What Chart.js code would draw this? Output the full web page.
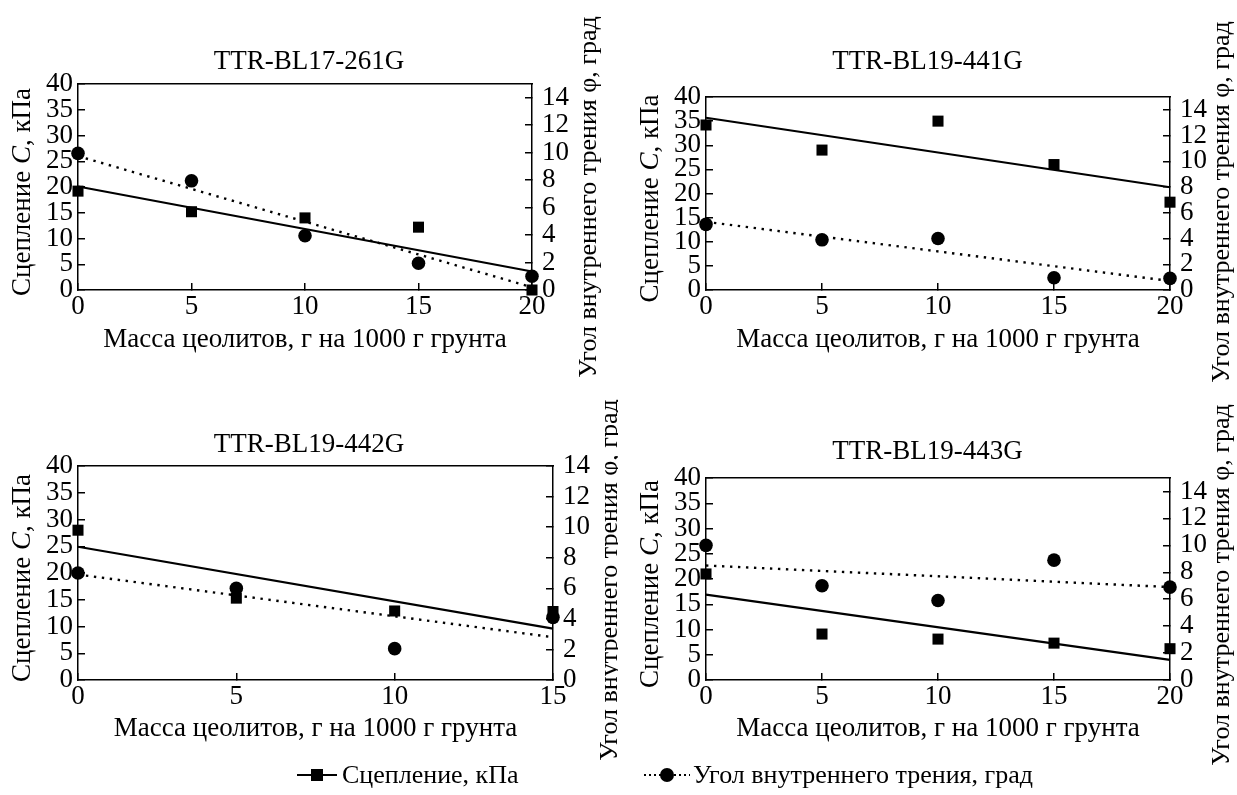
<!DOCTYPE html>
<html><head><meta charset="utf-8">
<script src="https://cdn.jsdelivr.net/npm/chart.js@4.4.1/dist/chart.umd.min.js"></script>
<style>
html,body{margin:0;padding:0;background:#fff;width:1237px;height:795px;overflow:hidden;font-family:"Liberation Serif","DejaVu Serif","Noto Serif",serif;color:#000;}
.panel{position:absolute;}
.panel canvas{display:block;}
#legend{position:absolute;left:0;top:755px;width:1237px;height:40px;font-size:26px;}
.item{position:absolute;top:0;height:40px;display:flex;align-items:center;white-space:nowrap;}
.symA{position:relative;width:40px;height:2px;background:#000;margin-right:5px;}
.symA::after{content:"";position:absolute;left:14px;top:-5px;width:12px;height:12px;background:#000;}
.symB{position:relative;width:46px;height:2px;margin-right:3px;background-image:linear-gradient(to right,#000 2px,transparent 2px);background-size:5px 2px;}
.symB::after{content:"";position:absolute;left:16px;top:-6px;width:14px;height:14px;border-radius:50%;background:#000;}
</style></head><body>
<div class="panel" style="left:0;top:0"><canvas id="c1" width="618" height="395"></canvas></div>
<div class="panel" style="left:618px;top:0"><canvas id="c2" width="619" height="395"></canvas></div>
<div class="panel" style="left:0;top:395px"><canvas id="c3" width="618" height="400"></canvas></div>
<div class="panel" style="left:618px;top:395px"><canvas id="c4" width="619" height="400"></canvas></div>
<div id="legend">
  <div class="item" style="left:297px"><span class="symA"></span><span id="lg1"></span></div>
  <div class="item" style="left:644px"><span class="symB"></span><span id="lg2"></span></div>
</div>
<script>
// ---------- data ----------
const panelTitles = ['TTR-BL17-261G', 'TTR-BL19-441G', 'TTR-BL19-442G', 'TTR-BL19-443G'];
const legendLabels = ['Сцепление, кПа', 'Угол внутреннего трения, град'];
const xAxisTitle = 'Масса цеолитов, г на 1000 г грунта';
const leftTitleParts = ['Сцепление ', 'C', ', кПа'];
const rightAxisTitle = 'Угол внутреннего трения φ, град';

const dose20 = [0, 5, 10, 15, 20];
const dose15 = [0, 5, 10, 15];
const fitX20 = [0, 20];
const fitX15 = [0, 15];

const cohesion1 = [19.2, 15.2, 14.0, 12.2, 0.0];
const friction1 = [9.95, 7.95, 3.95, 1.95, 1.0];
const cohesionFit1 = [20.1, 3.6];
const frictionFit1 = [9.75, 0.2];

const cohesion2 = [34.2, 29.0, 35.0, 26.0, 18.2];
const friction2 = [5.1, 3.9, 4.0, 0.95, 0.9];
const cohesionFit2 = [35.7, 21.3];
const frictionFit2 = [5.3, 0.7];

const cohesion3 = [28.0, 15.3, 12.9, 12.8];
const friction3 = [7.0, 6.0, 2.05, 4.1];
const cohesionFit3 = [24.9, 9.6];
const frictionFit3 = [6.9, 2.8];

const cohesion4 = [21.0, 9.1, 8.1, 7.3, 6.2];
const friction4 = [10.0, 7.0, 5.9, 8.9, 6.9];
const cohesionFit4 = [16.9, 4.0];
const frictionFit4 = [8.5, 6.9];

const leftTicks = [0, 5, 10, 15, 20, 25, 30, 35, 40];
const rightTicks = [0, 2, 4, 6, 8, 10, 12, 14];
const xTicks20 = [0, 5, 10, 15, 20];
const xTicks15 = [0, 5, 10, 15];
const rightMaxes = [15, 15, 14, 15];

document.getElementById('lg1').textContent = legendLabels[0];
document.getElementById('lg2').textContent = legendLabels[1];

// ---------- style / layout ----------
const FONT = '"Liberation Serif", "DejaVu Serif", "Noto Serif", serif';
const FS = 27;
const FS_R = 26;
const LH = FS * 1.2;
Chart.defaults.font.family = FONT;
Chart.defaults.font.size = FS;
Chart.defaults.color = '#000';

const titlesPlugin = {
  id: 'yTitles',
  afterDraw(chart, args, o) {
    const ctx = chart.ctx, a = chart.chartArea;
    ctx.save();
    ctx.fillStyle = '#000';
    ctx.textBaseline = 'middle';
    const fN = FS + 'px ' + FONT, fI = 'italic ' + FS + 'px ' + FONT;
    const fonts = [fN, fI, fN];
    const widths = leftTitleParts.map((t, i) => { ctx.font = fonts[i]; return ctx.measureText(t).width; });
    const total = widths.reduce((s, w) => s + w, 0);
    ctx.save();
    ctx.translate(a.left - o.leftOffset, o.leftCenter);
    ctx.rotate(-Math.PI / 2);
    ctx.textAlign = 'left';
    let x = -total / 2;
    leftTitleParts.forEach((t, i) => { ctx.font = fonts[i]; ctx.fillText(t, x, 0); x += widths[i]; });
    ctx.restore();
    ctx.save();
    ctx.translate(a.right + o.rightOffset, o.rightCenter);
    ctx.rotate(-Math.PI / 2);
    ctx.textAlign = 'center';
    ctx.font = FS_R + 'px ' + FONT;
    ctx.fillText(rightAxisTitle, 0, 0);
    ctx.restore();
    ctx.restore();
  }
};

function fixW(w) { return s => { s.width = w; }; }
function fixH(h) { return s => { s.height = h; }; }
function setTicks(arr) { return s => { s.ticks = arr.map(v => ({ value: v })); }; }

function makePanel(id, p) {
  const lineGrid = { display: true, drawOnChartArea: false, drawTicks: true, tickLength: -7, color: '#000', lineWidth: 1.5 };
  const border = { display: true, color: '#000', width: 1.5 };
  const tPadTop = p.titleY - LH / 2;
  const tPadBot = p.T - p.titleY - LH / 2;
  new Chart(document.getElementById(id), {
    type: 'scatter',
    data: {
      datasets: [
        { data: p.x.map((v, i) => ({ x: v, y: p.coh[i] })), yAxisID: 'y', showLine: false,
          pointStyle: 'rect', pointRadius: 7.8, backgroundColor: '#000', borderColor: '#000', borderWidth: 0 },
        { data: p.fx.map((v, i) => ({ x: v, y: p.cohFit[i] })), yAxisID: 'y', showLine: true,
          pointRadius: 0, borderColor: '#000', borderWidth: 2.2, backgroundColor: '#000' },
        { data: p.x.map((v, i) => ({ x: v, y: p.fr[i] })), yAxisID: 'y1', showLine: false,
          pointStyle: 'circle', pointRadius: 6.8, backgroundColor: '#000', borderColor: '#000', borderWidth: 0 },
        { data: p.fx.map((v, i) => ({ x: v, y: p.frFit[i] })), yAxisID: 'y1', showLine: true,
          pointRadius: 0, borderColor: '#000', borderWidth: 2.4, borderDash: [2.4, 5.6], backgroundColor: '#000' }
      ]
    },
    options: {
      responsive: false, animation: false, events: [],
      clip: false,
      layout: { padding: 0 },
      plugins: {
        legend: { display: false }, tooltip: { enabled: false },
        title: { display: true, text: p.title, color: '#000', font: { size: FS, weight: 'normal' },
                 padding: { top: tPadTop, bottom: tPadBot } },
        yTitles: { leftOffset: 55, leftCenter: (p.T + p.B) / 2 + 5, rightOffset: p.rOff, rightCenter: p.rCenter }
      },
      scales: {
        x: { type: 'linear', position: 'bottom', min: 0, max: p.xMax,
             afterFit: fixH(p.H - p.B), afterBuildTicks: setTicks(p.xTicks),
             grid: lineGrid, border: border,
             ticks: { padding: 8, maxRotation: 0, autoSkip: false, font: { size: FS } },
             title: { display: true, text: xAxisTitle, font: { size: FS }, padding: { top: 0, bottom: p.H - p.xTitleY - LH / 2 } } },
        x2: { type: 'linear', position: 'top', min: 0, max: p.xMax, afterFit: fixH(0),
              grid: { display: false, drawTicks: false, drawOnChartArea: false }, border: border,
              ticks: { display: false } },
        y: { type: 'linear', position: 'left', min: 0, max: 40,
             afterFit: fixW(p.L), afterBuildTicks: setTicks(leftTicks),
             grid: lineGrid, border: border,
             ticks: { padding: 12, autoSkip: false, font: { size: FS } } },
        y1: { type: 'linear', position: 'right', min: 0, max: p.rMax,
              afterFit: fixW(p.W - p.R), afterBuildTicks: setTicks(rightTicks),
              grid: lineGrid, border: border,
              ticks: { padding: 17, autoSkip: false, font: { size: FS } } }
      }
    },
    plugins: [titlesPlugin]
  });
}

makePanel('c1', { W: 618, H: 395, L: 78, T: 84, R: 532, B: 290, titleY: 62, xTitleY: 340, rOff: 57, rCenter: 197,
  title: panelTitles[0], x: dose20, fx: fitX20, coh: cohesion1, fr: friction1, cohFit: cohesionFit1, frFit: frictionFit1,
  xMax: 20, xTicks: xTicks20, rMax: rightMaxes[0] });
makePanel('c2', { W: 619, H: 395, L: 88, T: 97, R: 552, B: 290, titleY: 62, xTitleY: 340, rOff: 52, rCenter: 202,
  title: panelTitles[1], x: dose20, fx: fitX20, coh: cohesion2, fr: friction2, cohFit: cohesionFit2, frFit: frictionFit2,
  xMax: 20, xTicks: xTicks20, rMax: rightMaxes[1] });
makePanel('c3', { W: 618, H: 400, L: 78, T: 71, R: 553, B: 285, titleY: 50, xTitleY: 334, rOff: 57, rCenter: 185,
  title: panelTitles[2], x: dose15, fx: fitX15, coh: cohesion3, fr: friction3, cohFit: cohesionFit3, frFit: frictionFit3,
  xMax: 15, xTicks: xTicks15, rMax: rightMaxes[2] });
makePanel('c4', { W: 619, H: 400, L: 88, T: 83, R: 552, B: 285, titleY: 57, xTitleY: 334, rOff: 52, rCenter: 190,
  title: panelTitles[3], x: dose20, fx: fitX20, coh: cohesion4, fr: friction4, cohFit: cohesionFit4, frFit: frictionFit4,
  xMax: 20, xTicks: xTicks20, rMax: rightMaxes[3] });
</script>
</body></html>
